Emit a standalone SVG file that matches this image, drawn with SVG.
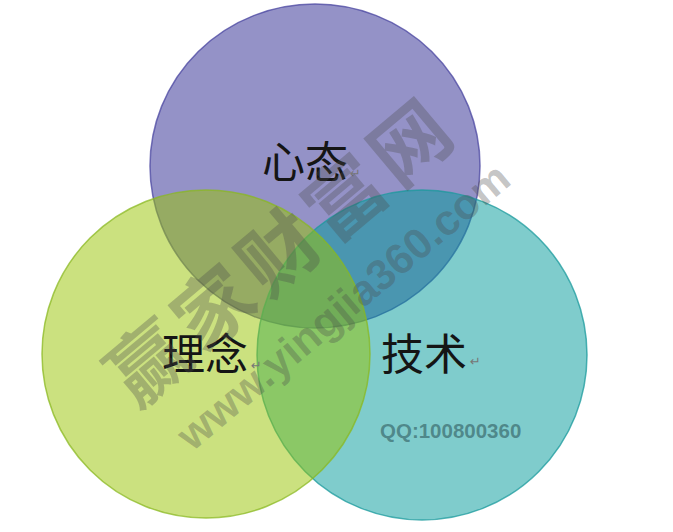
<svg xmlns="http://www.w3.org/2000/svg" width="673" height="532" viewBox="0 0 673 532">
<style>
.c{fill-opacity:0.5;stroke-width:1.5;stroke-opacity:0.75}
.lbl{font-family:"Noto Sans CJK SC","Noto Sans CJK TC",sans-serif;font-size:43px;fill:#151515;}
.ret{font-family:"DejaVu Sans",sans-serif;font-size:13px;fill:#777;}
.wm{font-family:"Liberation Sans","Noto Sans CJK SC",sans-serif;font-weight:bold;fill:#4a4a4a;fill-opacity:0.32;}
</style>
<rect width="673" height="532" fill="#ffffff"/>
<g id="mindset">
<ellipse class="c" cx="315" cy="166" rx="165" ry="162" fill="#2a2690" stroke="#4a46a0"/>
</g>
<g id="technique">
<ellipse class="c" cx="422" cy="355" rx="165" ry="165" fill="#009999" stroke="#1a9a9c"/>
</g>
<g id="philosophy">
<ellipse class="c" cx="206" cy="354" rx="164" ry="164" fill="#97c300" stroke="#8ab820"/>
</g>
<g id="labels">
<text class="lbl" x="262" y="178">心态</text>
<text class="ret" x="350" y="178">↵</text>
<text class="lbl" x="162" y="370">理念</text>
<text class="ret" x="251" y="370">↵</text>
<text class="lbl" x="381" y="370">技术</text>
<text class="ret" x="470" y="366">↵</text>
</g>
<g id="watermark">
<text class="wm" x="280" y="254" font-size="78" text-anchor="middle" dy="27" transform="rotate(-40 280 254)" textLength="420" lengthAdjust="spacing" font-family="Noto Sans CJK SC">赢家财富网</text>
<text class="wm" x="343" y="306" font-size="43" text-anchor="middle" dy="15" transform="rotate(-40 343 306)">www.yingjia360.com</text>
<text class="wm" x="380" y="438" font-size="20.5" style="fill:#3a6a6c;fill-opacity:0.7">QQ:100800360</text>
</g>
</svg>
